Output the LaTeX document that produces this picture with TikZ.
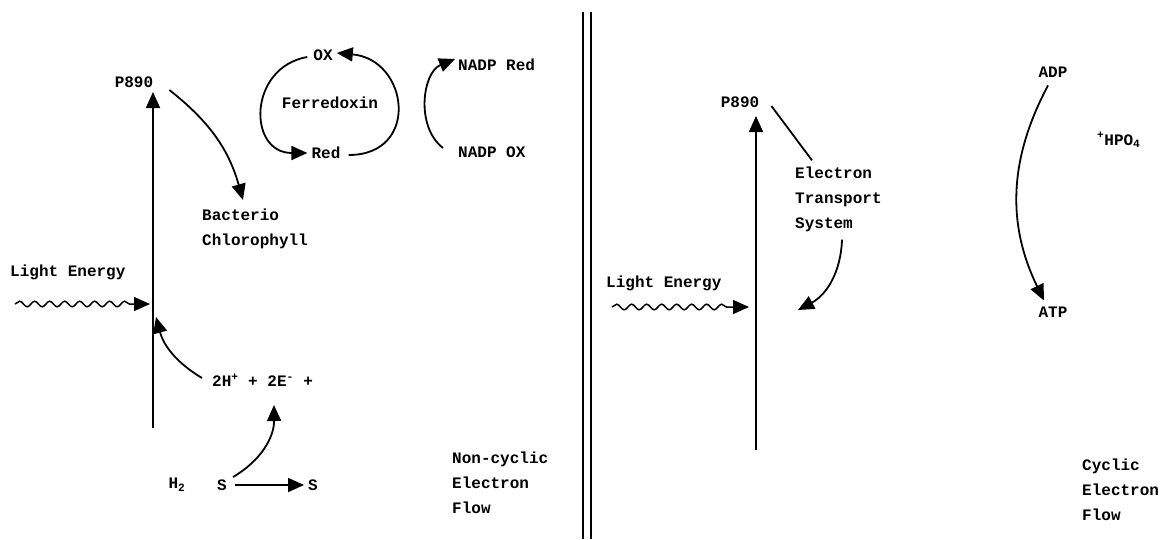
\documentclass[tikz,border=0pt]{standalone}
\usepackage{fontspec}
\setmonofont{Liberation Mono}
\usetikzlibrary{arrows.meta,decorations.pathmorphing,calc}

\tikzset{
  lbl/.style={font=\ttfamily\bfseries\fontsize{16}{25}\selectfont, inner sep=0pt, align=left},
  arr/.style={line width=1.8pt, -{Triangle[length=16pt,width=14pt]}},
  plain/.style={line width=1.8pt},
  wave/.style={line width=1.5pt, -{Triangle[length=16pt,width=14pt]},
    decorate, decoration={snake, amplitude=2.8pt, segment length=15pt, post length=16pt}}
}

\begin{document}
\begin{tikzpicture}[x=1pt,y=-1pt]
\useasboundingbox (0,0) rectangle (1172,539);

% non-cyclic side
\node[lbl] (lp890) at (134,82) {P890};
\node[lbl, anchor=west] (bact) at (202,229) {Bacterio\\Chlorophyll};
\node[lbl] (ox) at (323,55) {OX};
\node[lbl] (ferr) at (330,103) {Ferredoxin};
\node[lbl] (red) at (326,153) {Red};
\node[lbl, anchor=west] (nadpred) at (458,65) {NADP Red};
\node[lbl, anchor=west] (nadpox) at (458,152) {NADP OX};
\node[lbl, anchor=west] (light1) at (10,272) {Light Energy};
\node[lbl, anchor=west] (elec) at (212,380) {2H\textsuperscript{+} + 2E\textsuperscript{-} +};
\node[lbl] (h2) at (177,485) {H\textsubscript{2}};
\node[lbl] (s1) at (222,485) {S};
\node[lbl] (s2) at (313,485) {S};
\node[lbl, anchor=west] (noncyc) at (452,483) {Non-cyclic\\Electron\\Flow};

\coordinate (lbot) at (153,428);
\coordinate (ltop) at (153,92);
\coordinate (wl0) at (15,304);
\coordinate (wl1) at (150,304);
\coordinate (lmid) at (156,317);

\draw[arr] (lbot) -- (ltop);
\draw[arr] ($(lp890.east)+(16,8)$) to[bend left=18] (243,200);
\draw[wave] (wl0) -- (wl1);
\draw[arr] ($(elec.west)+(-10,-2)$) to[bend left=22] (lmid);
\draw[arr] ($(s1.east)+(6,-8)$) to[bend right=30] (274,405);
\draw[arr] ($(s1.east)+(8,0)$) -- ($(s2.west)+(-4,0)$);
\draw[arr] ($(ox.west)+(-6,2)$) to[out=190,in=180,looseness=1.6] ($(red.west)+(-4,0)$);
\draw[arr] ($(red.east)+(8,2)$) to[out=0,in=-5,looseness=1.8] ($(ox.east)+(4,-2)$);
\draw[arr] ($(nadpox.west)+(-15,-4)$) to[bend left=60] ($(nadpred.west)+(-3,-6)$);

% divider
\draw[line width=1.8pt] (583,12) -- (583,539);
\draw[line width=1.8pt] (591,12) -- (591,539);

% cyclic side
\node[lbl] (rp890) at (740,102) {P890};
\node[lbl, anchor=west] (ets) at (795,199) {Electron\\Transport\\System};
\node[lbl, anchor=west] (light2) at (606,283) {Light Energy};
\node[lbl] (adp) at (1053,72) {ADP};
\node[lbl] (atp) at (1053,312) {ATP};
\node[lbl, anchor=west] (hpo) at (1097,140) {\textsuperscript{+}HPO\textsubscript{4}};
\node[lbl, anchor=west] (cyc) at (1082,490) {Cyclic\\Electron\\Flow};

\coordinate (rbot) at (756,450);
\coordinate (rtop) at (756,116);
\coordinate (wr0) at (612,307);
\coordinate (wr1) at (749,307);

\draw[arr] (rbot) -- (rtop);
\draw[plain] ($(rp890.east)+(12,4)$) -- ($(ets.north west)+(17,-6)$);
\draw[arr] ($(ets.south west)+(47,8)$) to[bend left=30] (798,310);
\draw[wave] (wr0) -- (wr1);
\draw[arr] ($(adp.south)+(-5,8)$) to[bend right=27] ($(atp.north)+(-9,-6)$);
\end{tikzpicture}
\end{document}
